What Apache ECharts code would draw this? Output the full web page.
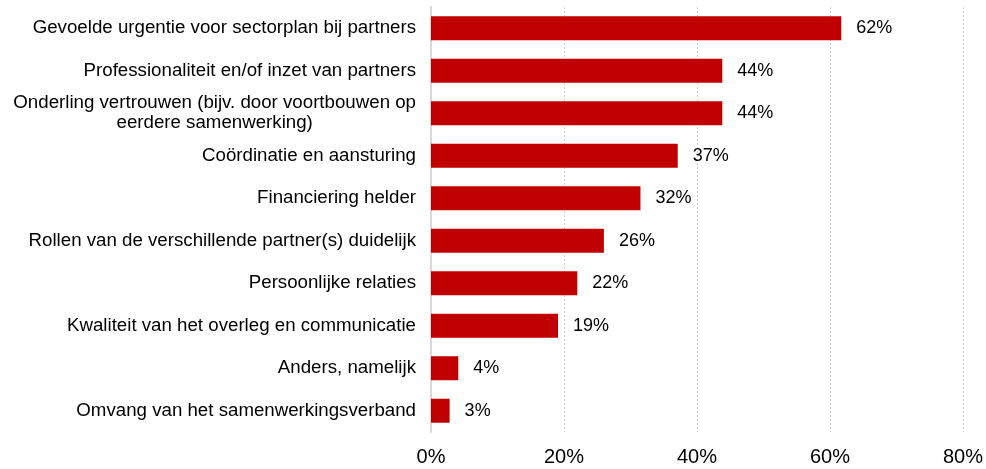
<!DOCTYPE html>
<html>
<head>
<meta charset="utf-8">
<script src="https://cdn.jsdelivr.net/npm/echarts@6/dist/echarts.min.js"></script>
<style>html,body{margin:0;padding:0;background:#fff}#c{width:986px;height:469px}</style>
</head>
<body>
<div id="c"></div>
<script>
const categories = [
  'Gevoelde urgentie voor sectorplan bij partners',
  'Professionaliteit en/of inzet van partners',
  'Onderling vertrouwen (bijv. door voortbouwen op\neerdere samenwerking)',
  'Coördinatie en aansturing',
  'Financiering helder',
  'Rollen van de verschillende partner(s) duidelijk',
  'Persoonlijke relaties',
  'Kwaliteit van het overleg en communicatie',
  'Anders, namelijk',
  'Omvang van het samenwerkingsverband'
];
const values = [61.7, 43.8, 43.8, 37.1, 31.5, 26.0, 22.0, 19.1, 4.1, 2.8];
const xTicks = [0, 20, 40, 60, 80];

const font = 'Liberation Sans, Arial, sans-serif';
const chart = echarts.init(document.getElementById('c'));
chart.setOption({
  animation: false,
  grid: {left: 431, right: 23, top: 7, bottom: 37, containLabel: false},
  xAxis: {
    type: 'value', min: xTicks[0], max: xTicks[xTicks.length - 1], interval: 20,
    axisLine: {show: false}, axisTick: {show: false},
    splitLine: {show: true, lineStyle: {color: '#d0d0d0', type: [2, 2], width: 1}},
    axisLabel: {formatter: v => v + '%', fontSize: 20, color: '#000', fontFamily: font, margin: 15}
  },
  yAxis: {
    type: 'category', data: categories, inverse: true,
    axisLine: {show: true, lineStyle: {color: '#d9d9d9', width: 2}},
    axisTick: {show: false},
    axisLabel: {
      fontSize: 18.7, color: '#000', fontFamily: font, margin: 15, lineHeight: 20,
      formatter: v => v.indexOf('\n') >= 0 ? v.split('\n').map(s => '{c|' + s + '}').join('\n') : v,
      rich: {c: {align: 'center', fontSize: 18.7, color: '#000', fontFamily: font, lineHeight: 20}}
    }
  },
  series: [{
    type: 'bar', data: values, barWidth: 24,
    itemStyle: {color: '#C00000'},
    label: {show: true, position: 'right', distance: 15, formatter: p => Math.round(p.value) + '%',
      fontSize: 18, color: '#000', fontFamily: font}
  }]
});
</script>
</body>
</html>
